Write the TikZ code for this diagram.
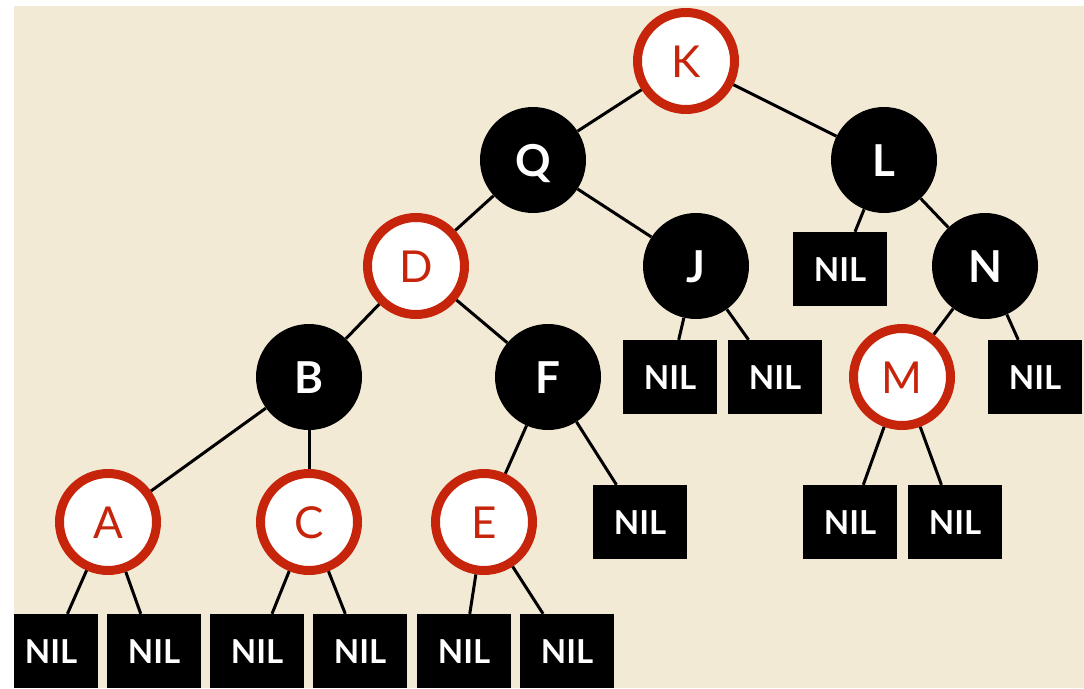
\documentclass[tikz,border=0pt]{standalone}
\usepackage{fontspec}
\setmainfont{Lato}
\usetikzlibrary{positioning}
\definecolor{rbred}{RGB}{198,37,12}
\definecolor{slidebg}{RGB}{243,234,214}

\begin{document}
\begin{tikzpicture}[x=1pt,y=-1pt,
	redn/.style={circle,draw=rbred,line width=9pt,fill=white,text=rbred,minimum size=97pt,inner sep=0pt,
		font=\fontsize{44}{44}\selectfont,text height=32pt,text depth=0pt},
	blackn/.style={circle,fill=black,text=white,minimum size=106pt,inner sep=0pt,
		font=\fontsize{44}{44}\selectfont\bfseries,text height=32pt,text depth=0pt},
	nil/.style={rectangle,fill=black,text=white,minimum width=94pt,minimum height=74pt,inner sep=0pt,
		font=\fontsize{33}{33}\selectfont\bfseries,text height=24pt,text depth=0pt},
	link/.style={line width=3pt}]
\fill[white] (0,0) rectangle (1084,688);
\fill[slidebg] (14,6) rectangle (1084,688);

\begin{scope}
\clip (14,6) rectangle (1084,688);
\node[redn] (nK) at (686,61) {K};
\node[blackn] (nQ) at (533,160) {Q};
\node[blackn] (nL) at (884,160) {L};
\node[redn] (nD) at (416,266) {D};
\node[blackn] (nJ) at (696,266) {J};
\node[nil] (nL1) at (840,269) {NIL};
\node[blackn] (nN) at (985,266) {N};
\node[blackn] (nB) at (309,377) {B};
\node[blackn] (nF) at (548,377) {F};
\node[nil] (nJ1) at (670,377) {NIL};
\node[nil] (nJ2) at (775,377) {NIL};
\node[redn] (nM) at (902,377) {M};
\node[nil] (nN2) at (1035,377) {NIL};
\node[redn] (nA) at (108,522) {A};
\node[redn] (nC) at (309,522) {C};
\node[redn] (nE) at (484,522) {E};
\node[nil] (nF2) at (640,522) {NIL};
\node[nil] (nM1) at (850,522) {NIL};
\node[nil] (nM2) at (955,522) {NIL};
\node[nil] (nA1) at (51,651) {NIL};
\node[nil] (nA2) at (154,651) {NIL};
\node[nil] (nC1) at (257,651) {NIL};
\node[nil] (nC2) at (360,651) {NIL};
\node[nil] (nE1) at (464,651) {NIL};
\node[nil] (nE2) at (567,651) {NIL};

\foreach \a/\b in {nK/nQ,nK/nL,nQ/nD,nQ/nJ,nL/nL1,nL/nN,nD/nB,nD/nF,nJ/nJ1,nJ/nJ2,
	nN/nM,nN/nN2,nB/nA,nB/nC,nF/nE,nF/nF2,nM/nM1,nM/nM2,
	nA/nA1,nA/nA2,nC/nC1,nC/nC2,nE/nE1,nE/nE2}
	\draw[link] (\a) -- (\b);
\end{scope}
\end{tikzpicture}
\end{document}
